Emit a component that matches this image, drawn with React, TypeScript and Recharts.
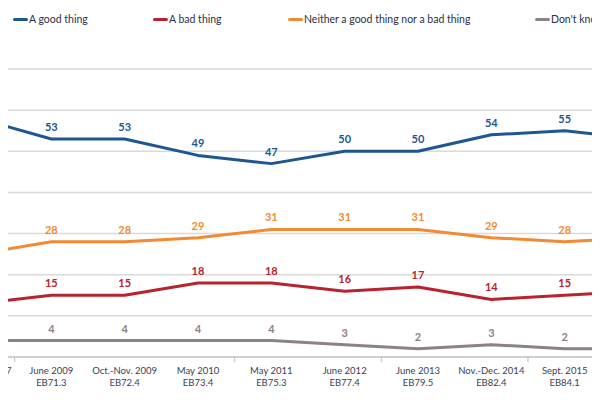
import React from 'react';
import { LineChart, Line, XAxis, YAxis, CartesianGrid, LabelList } from 'recharts';

const periods = ['Sept.-Oct. 2007', 'June 2009', 'Oct.-Nov. 2009', 'May 2010', 'May 2011', 'June 2012', 'June 2013', 'Nov.-Dec. 2014', 'Sept. 2015', 'May 2016'];
const waves = ['EB68.1', 'EB71.3', 'EB72.4', 'EB73.4', 'EB75.3', 'EB77.4', 'EB79.5', 'EB82.4', 'EB84.1', 'EB85.2'];

const goodThing = [58, 53, 53, 49, 47, 50, 50, 54, 55, 53];
const badThing = [13, 15, 15, 18, 18, 16, 17, 14, 15, 16];
const neither = [25, 28, 28, 29, 31, 31, 31, 29, 28, 29];
const dontKnow = [4, 4, 4, 4, 4, 3, 2, 3, 2, 2];

const yTicks = [0, 10, 20, 30, 40, 50, 60, 70];
// indexes of categories that get a small separator tick on their left
const separatorBefore = [1, 4, 6, 8];

const series = [
  { key: 'good', name: 'A good thing', color: '#1d5690' },
  { key: 'bad', name: 'A bad thing', color: '#b8232f' },
  { key: 'neither', name: 'Neither a good thing nor a bad thing', color: '#f18a32' },
  { key: 'dk', name: "Don't know", color: '#8e8087' },
];

const data = periods.map((p, i) => ({
  period: p,
  wave: waves[i],
  good: goodThing[i],
  bad: badThing[i],
  neither: neither[i],
  dk: dontKnow[i],
}));

// layout: the chart is wider than the window and cropped on both sides
const CHART_W = 700;
const CHART_H = 400;
const CHART_LEFT = -22;
const MARGIN = { top: 69, right: 40, left: 0, bottom: 0 };
const AXIS_H = 43;
const AXIS_Y = CHART_H - AXIS_H;
const STEP = (CHART_W - MARGIN.left - MARGIN.right) / (periods.length - 1);
const legendLeft = [13, 153, 288, 535];
const FONT = 'Lato, "Open Sans", sans-serif';

const PeriodTick = (props: any) => {
  const { x, payload, index } = props;
  const i = index ?? payload.index;
  return (
    <g>
      {separatorBefore.includes(i) && (
        <line x1={x - STEP / 2} x2={x - STEP / 2} y1={AXIS_Y} y2={AXIS_Y + 5} stroke="#c9c9c9" strokeWidth={1.2} />
      )}
      <text x={x} y={AXIS_Y + 17} textAnchor="middle" fontSize={9.5} fill="#3a3e55" fontFamily={FONT}>
        {payload.value}
      </text>
      <text x={x} y={AXIS_Y + 29} textAnchor="middle" fontSize={9.5} fill="#3a3e55" fontFamily={FONT}>
        {waves[i]}
      </text>
    </g>
  );
};

export default function App() {
  return (
    <div style={{ margin: -8, width: 600, height: 400, overflow: 'hidden', position: 'relative', background: '#fff', fontFamily: FONT }}>
      {series.map((s, i) => (
        <div key={s.key} style={{ position: 'absolute', left: legendLeft[i], top: 13, display: 'flex', alignItems: 'center', whiteSpace: 'nowrap' }}>
          <span style={{ display: 'inline-block', width: 15, height: 3, borderRadius: 2, background: s.color }} />
          <span style={{ fontSize: 10.5, color: '#2b2f48', marginLeft: 1 }}>{s.name}</span>
        </div>
      ))}
      <div style={{ position: 'absolute', left: CHART_LEFT, top: 0 }}>
        <LineChart width={CHART_W} height={CHART_H} data={data} margin={MARGIN}>
          <CartesianGrid vertical={false} stroke="#dadada" strokeWidth={1.5} />
          <YAxis hide domain={[0, 70]} ticks={yTicks} />
          <XAxis
            dataKey="period"
            height={AXIS_H}
            interval={0}
            tickLine={false}
            axisLine={{ stroke: '#c9c9c9', strokeWidth: 1.5 }}
            tick={<PeriodTick />}
          />
          {series.map((s) => (
            <Line
              key={s.key}
              type="linear"
              dataKey={s.key}
              name={s.name}
              stroke={s.color}
              strokeWidth={3}
              strokeLinejoin="round"
              dot={false}
              isAnimationActive={false}
            >
              <LabelList dataKey={s.key} position="top" offset={8} fill={s.color} fontSize={11} fontWeight="bold" fontFamily={FONT} />
            </Line>
          ))}
        </LineChart>
      </div>
    </div>
  );
}
